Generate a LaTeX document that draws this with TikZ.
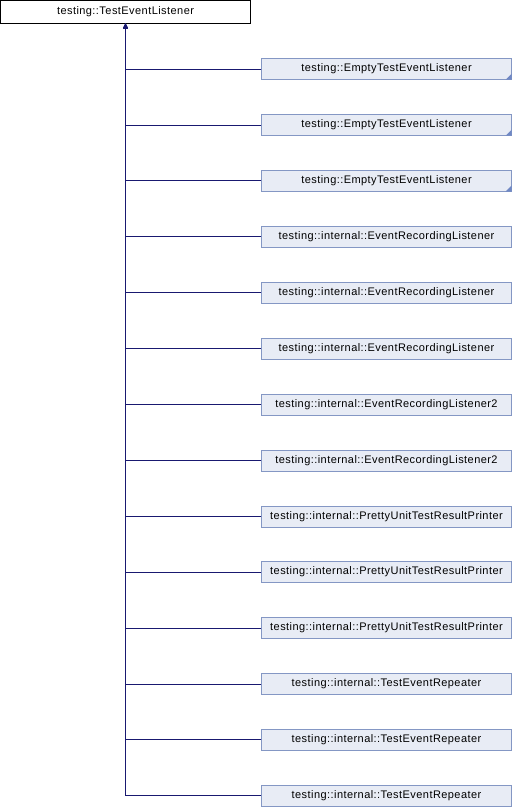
\documentclass[tikz,border=0pt]{standalone}
\usepackage{fontspec}
\setmainfont[LetterSpace=4]{Liberation Sans}
\usetikzlibrary{arrows.meta}

\definecolor{edgeblue}{HTML}{191970}
\definecolor{boxfill}{HTML}{E8ECF5}
\definecolor{boxline}{HTML}{8497C4}
\definecolor{cornerblue}{HTML}{7088C4}

\tikzset{
	base/.style={draw=black, fill=white, minimum width=250pt, minimum height=23pt, inner sep=0pt, font=\fontsize{11}{13}\selectfont},
	derived/.style={base, draw=boxline, fill=boxfill, minimum height=21pt},
	inherit/.style={draw=edgeblue, line width=0.8pt, -{Triangle[length=5pt,width=4.5pt]}},
}

\begin{document}
\begin{tikzpicture}[x=1pt, y=-1pt]
	\useasboundingbox (0,0) rectangle (512,808);
	\node[base] (listener) at (125.5,11.8) {testing::TestEventListener};
	\foreach \k/\name in {
			1/testing::EmptyTestEventListener,
			2/testing::EmptyTestEventListener,
			3/testing::EmptyTestEventListener,
			4/testing::internal::EventRecordingListener,
			5/testing::internal::EventRecordingListener,
			6/testing::internal::EventRecordingListener,
			7/testing::internal::EventRecordingListener2,
			8/testing::internal::EventRecordingListener2,
			9/testing::internal::PrettyUnitTestResultPrinter,
			10/testing::internal::PrettyUnitTestResultPrinter,
			11/testing::internal::PrettyUnitTestResultPrinter,
			12/testing::internal::TestEventRepeater,
			13/testing::internal::TestEventRepeater,
			14/testing::internal::TestEventRepeater} {
		\node[derived] (sub\k) at (386.5,{69+55.9*(\k-1)}) {\name};
		\draw[inherit] (sub\k.west) -| (listener.south);
	}
	% truncated subclasses are marked in the corner
	\foreach \k in {1,2,3}
		\fill[cornerblue] (sub\k.south east) -- ++(-6,0) -- ++(6,-6) -- cycle;
\end{tikzpicture}
\end{document}
